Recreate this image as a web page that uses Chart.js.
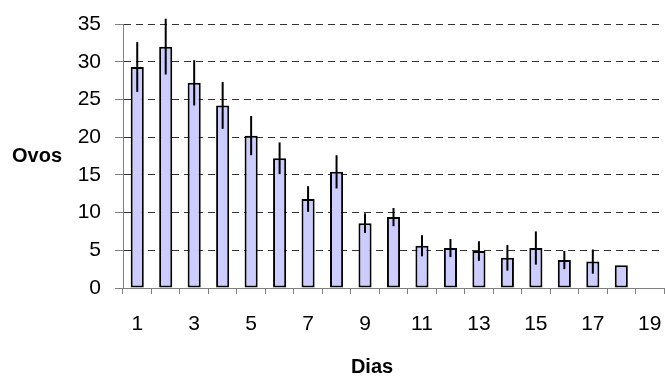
<!DOCTYPE html>
<html>
<head>
<meta charset="utf-8">
<script src="https://cdn.jsdelivr.net/npm/chart.js@4.4.0/dist/chart.umd.min.js"></script>
<style>
  body { margin: 0; background: #fff; }
  canvas { display: block; }
</style>
</head>
<body>
<canvas id="myChart" width="665" height="379"></canvas>
<script>
// Dias 1..19 (dia 19 sem dados)
const dias = ['1','2','3','4','5','6','7','8','9','10','11','12','13','14','15','16','17','18','19'];
// media de ovos por dia
const ovos = [29.3, 32.0, 27.2, 24.2, 20.2, 17.2, 11.8, 15.4, 8.6, 9.4, 5.6, 5.3, 4.9, 4.0, 5.3, 3.7, 3.5, 3.0, null];
// erro (barra vertical, +/-)
const erro = [3.3, 3.7, 3.0, 3.1, 2.6, 2.1, 1.7, 2.2, 1.3, 1.2, 1.4, 1.2, 1.3, 1.7, 2.2, 1.2, 1.6, 0, null];
const yTicks = [0, 5, 10, 15, 20, 25, 30, 35];

const fontFam = "'Liberation Sans', Arial, sans-serif";

// error bars drawn with the y scale
const errorBars = {
  id: 'errorBars',
  afterDatasetsDraw(chart) {
    const ctx = chart.ctx;
    const yScale = chart.scales.y;
    const meta = chart.getDatasetMeta(0);
    ctx.save();
    ctx.strokeStyle = '#000';
    ctx.lineWidth = 2;
    meta.data.forEach((bar, i) => {
      if (ovos[i] == null || !erro[i]) return;
      const top = yScale.getPixelForValue(ovos[i] + erro[i]);
      const bot = yScale.getPixelForValue(ovos[i] - erro[i]);
      ctx.beginPath();
      ctx.moveTo(bar.x, top);
      ctx.lineTo(bar.x, bot);
      ctx.stroke();
    });
    ctx.restore();
  }
};

// horizontal axis titles like the original
const axisTitles = {
  id: 'axisTitles',
  afterDraw(chart) {
    const ctx = chart.ctx;
    const a = chart.chartArea;
    ctx.save();
    ctx.fillStyle = '#000';
    ctx.font = 'bold 20px ' + fontFam;
    ctx.textAlign = 'center';
    ctx.textBaseline = 'middle';
    ctx.fillText('Ovos', 37, (a.top + a.bottom) / 2);
    ctx.fillText('Dias', 372, 367);
    ctx.restore();
  }
};

const chart = new Chart(document.querySelector('#myChart'), {
  type: 'bar',
  data: {
    labels: dias,
    datasets: [{
      data: ovos,
      backgroundColor: '#CCCCFF',
      borderColor: '#000',
      borderWidth: 2,
      borderSkipped: false,
      categoryPercentage: 1,
      barPercentage: 0.46
    }]
  },
  options: {
    responsive: false,
    animation: false,
    layout: { padding: { top: 24, right: 1, left: 0, bottom: 0 } },
    plugins: {
      legend: { display: false },
      tooltip: { enabled: false }
    },
    scales: {
      x: {
        afterFit: (s) => { s.height = 91; s.paddingLeft = 0; s.paddingRight = 0; },
        grid: {
          offset: true,
          drawOnChartArea: false,
          tickLength: 6,
          tickColor: '#808080',
          tickWidth: 1
        },
        border: { display: true, color: '#808080', width: 1 },
        ticks: {
          autoSkip: false,
          maxRotation: 0,
          padding: 18,
          color: '#000',
          font: { family: fontFam, size: 21 },
          callback: (v, i) => (i % 2 === 0 ? dias[i] : '')
        }
      },
      y: {
        min: 0,
        max: 35,
        afterFit: (s) => { s.width = 123; s.paddingTop = 0; s.paddingBottom = 0; },
        afterBuildTicks: (s) => { s.ticks = yTicks.map(v => ({ value: v })); },
        grid: {
          color: (c) => (c.tick && c.tick.value === 0 ? 'rgba(0,0,0,0)' : '#333'),
          lineWidth: 1,
          tickLength: 8,
          tickColor: '#808080',
          tickWidth: 1,
          tickBorderDash: []
        },
        border: { display: true, color: '#808080', width: 1, dash: [7, 5] },
        ticks: {
          padding: 14,
          color: '#000',
          font: { family: fontFam, size: 21 }
        }
      }
    }
  },
  plugins: [errorBars, axisTitles]
});
</script>
</body>
</html>
